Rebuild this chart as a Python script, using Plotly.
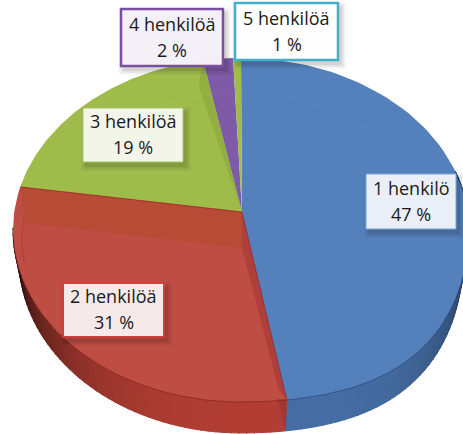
"""Household size pie drawn as a tilted 3D disc."""

import numpy as np
import plotly.graph_objects as go

categories = ["1 henkilö", "2 henkilöä", "3 henkilöä", "4 henkilöä", "5 henkilöä"]
shares = [47, 31, 19, 2, 1]
top_colors = ["#5480BB", "#BE4D43", "#9FBC4B", "#7F5AA6", "#9FBC4B"]
side_colors = [(70, 110, 165), (178, 62, 52), (130, 155, 60), (100, 70, 135), (130, 155, 60)]
border_colors = ["#7FA6D8", "#CF3F3B", "#A9C65F", "#7B4FA0", "#3FAFCB"]
border_widths = [1, 2, 1, 2.5, 2.5]

label_x = [411, 113.5, 133, 172, 286.5]
label_y = [201.5, 310, 135, 37.5, 31.5]
label_w = [90, 101, 100, 102, 103]
label_h = [55, 54, 54, 57, 57]
fill_colors = ["rgba(238,242,249,0.98)", "rgba(247,238,237,0.98)", "rgba(246,247,238,0.98)",
               "rgba(245,241,248,0.98)", "rgba(255,255,255,0.98)"]
# perspective makes the drawn rim angles drift a little from the true shares
rim_drift = [0, -0.8, 3.7, 1.2, 1.6, 0]

CX, CY, RX, RY = 241, 230, 228, 172
SIDE_CY, SIDE_RX, SIDE_RY = 258, 222, 175
APEX = (242, 212)


def rim(t, cy=CY, rx=RX, ry=RY):
    t = np.radians(t)
    x = CX + rx * np.sin(t)
    y = cy - ry * np.cos(t)
    # lower right of the disc bulges towards the viewer
    sag = 36 * np.sin(t) ** 2 * np.clip(-np.cos(t), 0, None) * (np.sin(t) > 0)
    return x, y + sag


def add_poly(fig, xs, ys, color, width=0):
    fig.add_trace(go.Scatter(x=list(xs), y=list(ys), mode="lines", fill="toself", fillcolor=color,
                             line=dict(width=width, color=color), hoverinfo="skip", showlegend=False))


def add_line(fig, xs, ys, color, width=1):
    fig.add_trace(go.Scatter(x=list(xs), y=list(ys), mode="lines", line=dict(color=color, width=width),
                             hoverinfo="skip", showlegend=False))


def side_shade(t):
    # darkest at the silhouette ends, lightest at the front
    return float(np.clip(1.0 - (abs(t - 170) / 92) ** 2.6 * 0.8, 0.2, 1.0))


fig = go.Figure()
edges = np.cumsum([0] + shares) * 3.6 + np.array(rim_drift)

# side wall
for i, col in enumerate(side_colors):
    for t in np.arange(edges[i], edges[i + 1], 2.0):
        if t < 70 or t > 270:
            continue
        ts = np.array([t, min(t + 2.3, edges[i + 1])])
        ux, uy = rim(ts)
        lx, ly = rim(ts[::-1], SIDE_CY, SIDE_RX, SIDE_RY)
        s = side_shade(t)
        add_poly(fig, np.r_[ux, lx], np.r_[uy, ly],
                 f"rgb({int(col[0] * s)},{int(col[1] * s)},{int(col[2] * s)})", width=1)

# top face
for i, col in enumerate(top_colors):
    ts = np.linspace(edges[i], edges[i + 1], 90)
    xs, ys = rim(ts)
    add_poly(fig, np.r_[APEX[0], xs], np.r_[APEX[1], ys], col)

# bevels along the slice edges
ax_, ay_ = rim(edges[1])
bx, by = rim(edges[2])
cx_, cy_ = rim(edges[3])
add_poly(fig, [APEX[0], bx, bx + 5, APEX[0]], [APEX[1], by, by + 36, APEX[1] + 36], "#B84B35")
add_poly(fig, [APEX[0], ax_, ax_ - 8, APEX[0]], [APEX[1], ay_, ay_ - 10, APEX[1] + 36], "#AE3F3A")
sx, sy = rim(edges[1], SIDE_CY, SIDE_RX, SIDE_RY)
add_poly(fig, [ax_, sx, ax_ - 9], [ay_, sy, ay_ - 1], "#A5352F")
add_poly(fig, [APEX[0], cx_, cx_ - 4, cx_ - 3], [APEX[1], cy_, cy_ + 24, cy_ + 30], "#93AF42")

# faint inner ring on the upper half
ts = np.linspace(285, 400, 120)
xs, ys = rim(ts, CY + 34, RX - 24, RY)
add_line(fig, xs, ys, "rgba(255,255,255,0.04)")

# inner edge of the red bevel
ts = np.linspace(edges[2] - 6, edges[2] - 24, 20)
xs, ys = rim(ts, CY + 8, RX - 9, RY)
add_line(fig, xs, ys, "rgba(150,40,35,0.35)")

# dark seams
for t0, t1, color in ((edges[0] + 70, edges[1], "rgba(35,65,120,0.7)"), (edges[1], edges[2] - 20, "rgba(130,30,25,0.7)")):
    xs, ys = rim(np.linspace(t0, t1, 120))
    add_line(fig, xs, ys, color)
add_line(fig, [APEX[0], bx], [APEX[1], by], "rgba(150,35,30,0.8)")
add_line(fig, [APEX[0], ax_], [APEX[1], ay_], "rgba(120,30,30,0.6)")

shapes = []
annotations = []
for name, share, x, y, w, h, edge, edge_w, fill in zip(categories, shares, label_x, label_y, label_w, label_h,
                                                       border_colors, border_widths, fill_colors):
    for grow, alpha in ((5, 0.04), (3, 0.06), (1, 0.08)):
        shapes.append(dict(type="rect", x0=x - w / 2 + 3 - grow, x1=x + w / 2 + 3 + grow,
                           y0=y - h / 2 + 4 - grow, y1=y + h / 2 + 4 + grow,
                           fillcolor=f"rgba(0,0,0,{alpha})", line_width=0))
    shapes.append(dict(type="rect", x0=x - w / 2, x1=x + w / 2, y0=y - h / 2, y1=y + h / 2,
                       fillcolor=fill, line=dict(color=edge, width=edge_w)))
    for text, offset in ((name, -14), (f"{share} %", 12)):
        annotations.append(dict(x=x, y=y + offset, text=text, showarrow=False,
                                font=dict(family="Open Sans", size=18, color="#1a1a1a")))

fig.update_layout(width=463, height=434, margin=dict(l=0, r=0, t=0, b=0), paper_bgcolor="white",
                  plot_bgcolor="white", showlegend=False, shapes=shapes, annotations=annotations,
                  xaxis=dict(range=[0, 463], visible=False, fixedrange=True),
                  yaxis=dict(range=[434, 0], visible=False, fixedrange=True))
fig.write_html("out.html", config={"displayModeBar": False},
               post_script="document.body.style.margin='0';document.body.style.overflow='hidden';")
